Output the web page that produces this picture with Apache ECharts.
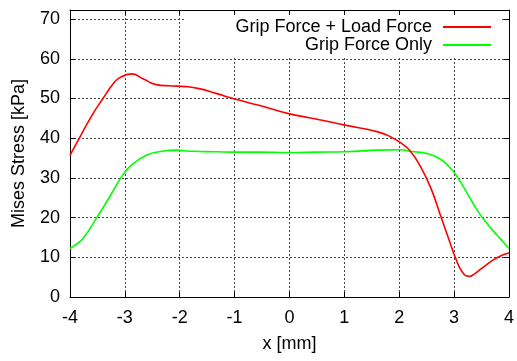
<!DOCTYPE html>
<html>
<head>
<meta charset="utf-8">
<script src="https://cdn.jsdelivr.net/npm/echarts@6/dist/echarts.min.js"></script>
<style>html,body{margin:0;padding:0;background:#fff}#c{width:517px;height:361px}</style>
</head>
<body>
<div id="c"></div>
<script>
var seriesNames = ['Grip Force + Load Force', 'Grip Force Only'];
var loadX = [-4.00,-3.82,-3.58,-3.40,-3.22,-3.10,-2.88,-2.67,-2.43,-2.19,-1.89,-1.65,-1.34,-0.98,-0.56,-0.02,0.50,1.01,1.61,1.85,2.03,2.21,2.39,2.58,2.76,2.91,3.03,3.15,3.27,3.36,3.54,3.72,3.87,4.00];
var loadY = [35.7,40.3,46.2,50.0,53.6,55.2,56.2,55.0,53.5,53.2,53.0,52.5,51.3,49.8,48.3,46.2,44.8,43.3,41.6,40.3,38.8,36.6,32.8,27.3,20.2,14.3,9.7,6.3,5.2,5.7,7.6,9.4,10.5,11.1];
var gripX = [-4.00,-3.88,-3.76,-3.52,-3.28,-3.04,-2.88,-2.61,-2.37,-2.07,-1.77,-1.34,-0.98,-0.56,-0.02,0.50,1.01,1.61,2.03,2.21,2.52,2.73,2.91,3.06,3.24,3.42,3.60,3.78,4.00];
var gripY = [12.2,13.3,14.8,19.8,25.2,30.7,33.2,35.7,36.6,37.0,36.7,36.6,36.5,36.5,36.4,36.5,36.6,37.0,37.1,36.7,36.1,34.9,32.8,30.2,26.1,21.9,18.5,15.6,12.2];
var xTicks = [-4,-3,-2,-1,0,1,2,3,4];
var yTicks = [0,10,20,30,40,50,60,70];

function pairs(xs, ys){ return xs.map(function(x,i){ return [x, ys[i]]; }); }

var font = 'Liberation Sans, Arial, sans-serif';
var fs = 18;
var gridLine = {show:true, lineStyle:{color:'#444', type:[2,2], width:1}};
var chart = echarts.init(document.getElementById('c'), null, {renderer:'canvas'});
chart.setOption({
  animation:false,
  backgroundColor:'#fff',
  grid:{left:70, right:5, top:10, bottom:64, containLabel:false},
  legend:{
    orient:'vertical', align:'right', right:17, top:14,
    padding:[4,9,3,50], backgroundColor:'#fff',
    icon:'rect', itemWidth:48, itemHeight:2, itemGap:0,
    textStyle:{fontFamily:font, fontSize:fs, color:'#000', lineHeight:18, padding:[0,6,0,0]},
    data:seriesNames
  },
  xAxis:[{
    type:'value', min:xTicks[0], max:xTicks[xTicks.length-1], interval:1,
    name:'x [mm]', nameLocation:'middle', nameGap:38,
    nameTextStyle:{fontFamily:font, fontSize:fs, color:'#000'},
    axisLine:{show:true, onZero:false, lineStyle:{color:'#000', width:1}},
    axisTick:{show:true, inside:true, length:5, lineStyle:{color:'#000'}},
    axisLabel:{fontFamily:font, fontSize:fs, color:'#000', margin:12},
    splitLine:gridLine
  },{
    type:'value', position:'top', min:xTicks[0], max:xTicks[xTicks.length-1], interval:1, z:10,
    axisLine:{show:true, onZero:false, lineStyle:{color:'#000', width:1}},
    axisTick:{show:true, inside:true, length:5, lineStyle:{color:'#000'}},
    axisLabel:{show:false}, splitLine:{show:false}
  }],
  yAxis:[{
    type:'value', min:yTicks[0], max:72.3, interval:10,
    name:'Mises Stress [kPa]', nameLocation:'middle', nameGap:42, nameRotate:90,
    nameTextStyle:{fontFamily:font, fontSize:fs, color:'#000'},
    axisLine:{show:true, onZero:false, lineStyle:{color:'#000', width:1}},
    axisTick:{show:true, inside:true, length:5, lineStyle:{color:'#000'}},
    axisLabel:{fontFamily:font, fontSize:fs, color:'#000', margin:10,
      formatter:function(v){ return yTicks.indexOf(v) >= 0 ? String(v) : ''; }},
    splitLine:gridLine
  },{
    type:'value', position:'right', min:yTicks[0], max:72.3, interval:10, z:10,
    axisLine:{show:true, onZero:false, lineStyle:{color:'#000', width:1}},
    axisTick:{show:true, inside:true, length:5, lineStyle:{color:'#000'}},
    axisLabel:{show:false}, splitLine:{show:false}
  }],
  series:[{
    name:seriesNames[0], type:'line', data:pairs(loadX, loadY), smooth:0.5,
    symbol:'none', lineStyle:{color:'#ff0000', width:1.6}, itemStyle:{color:'#ff0000'}, z:3
  },{
    name:seriesNames[1], type:'line', data:pairs(gripX, gripY), smooth:0.5,
    symbol:'none', lineStyle:{color:'#00ff00', width:1.6}, itemStyle:{color:'#00ff00'}, z:2
  }]
});
</script>
</body>
</html>
